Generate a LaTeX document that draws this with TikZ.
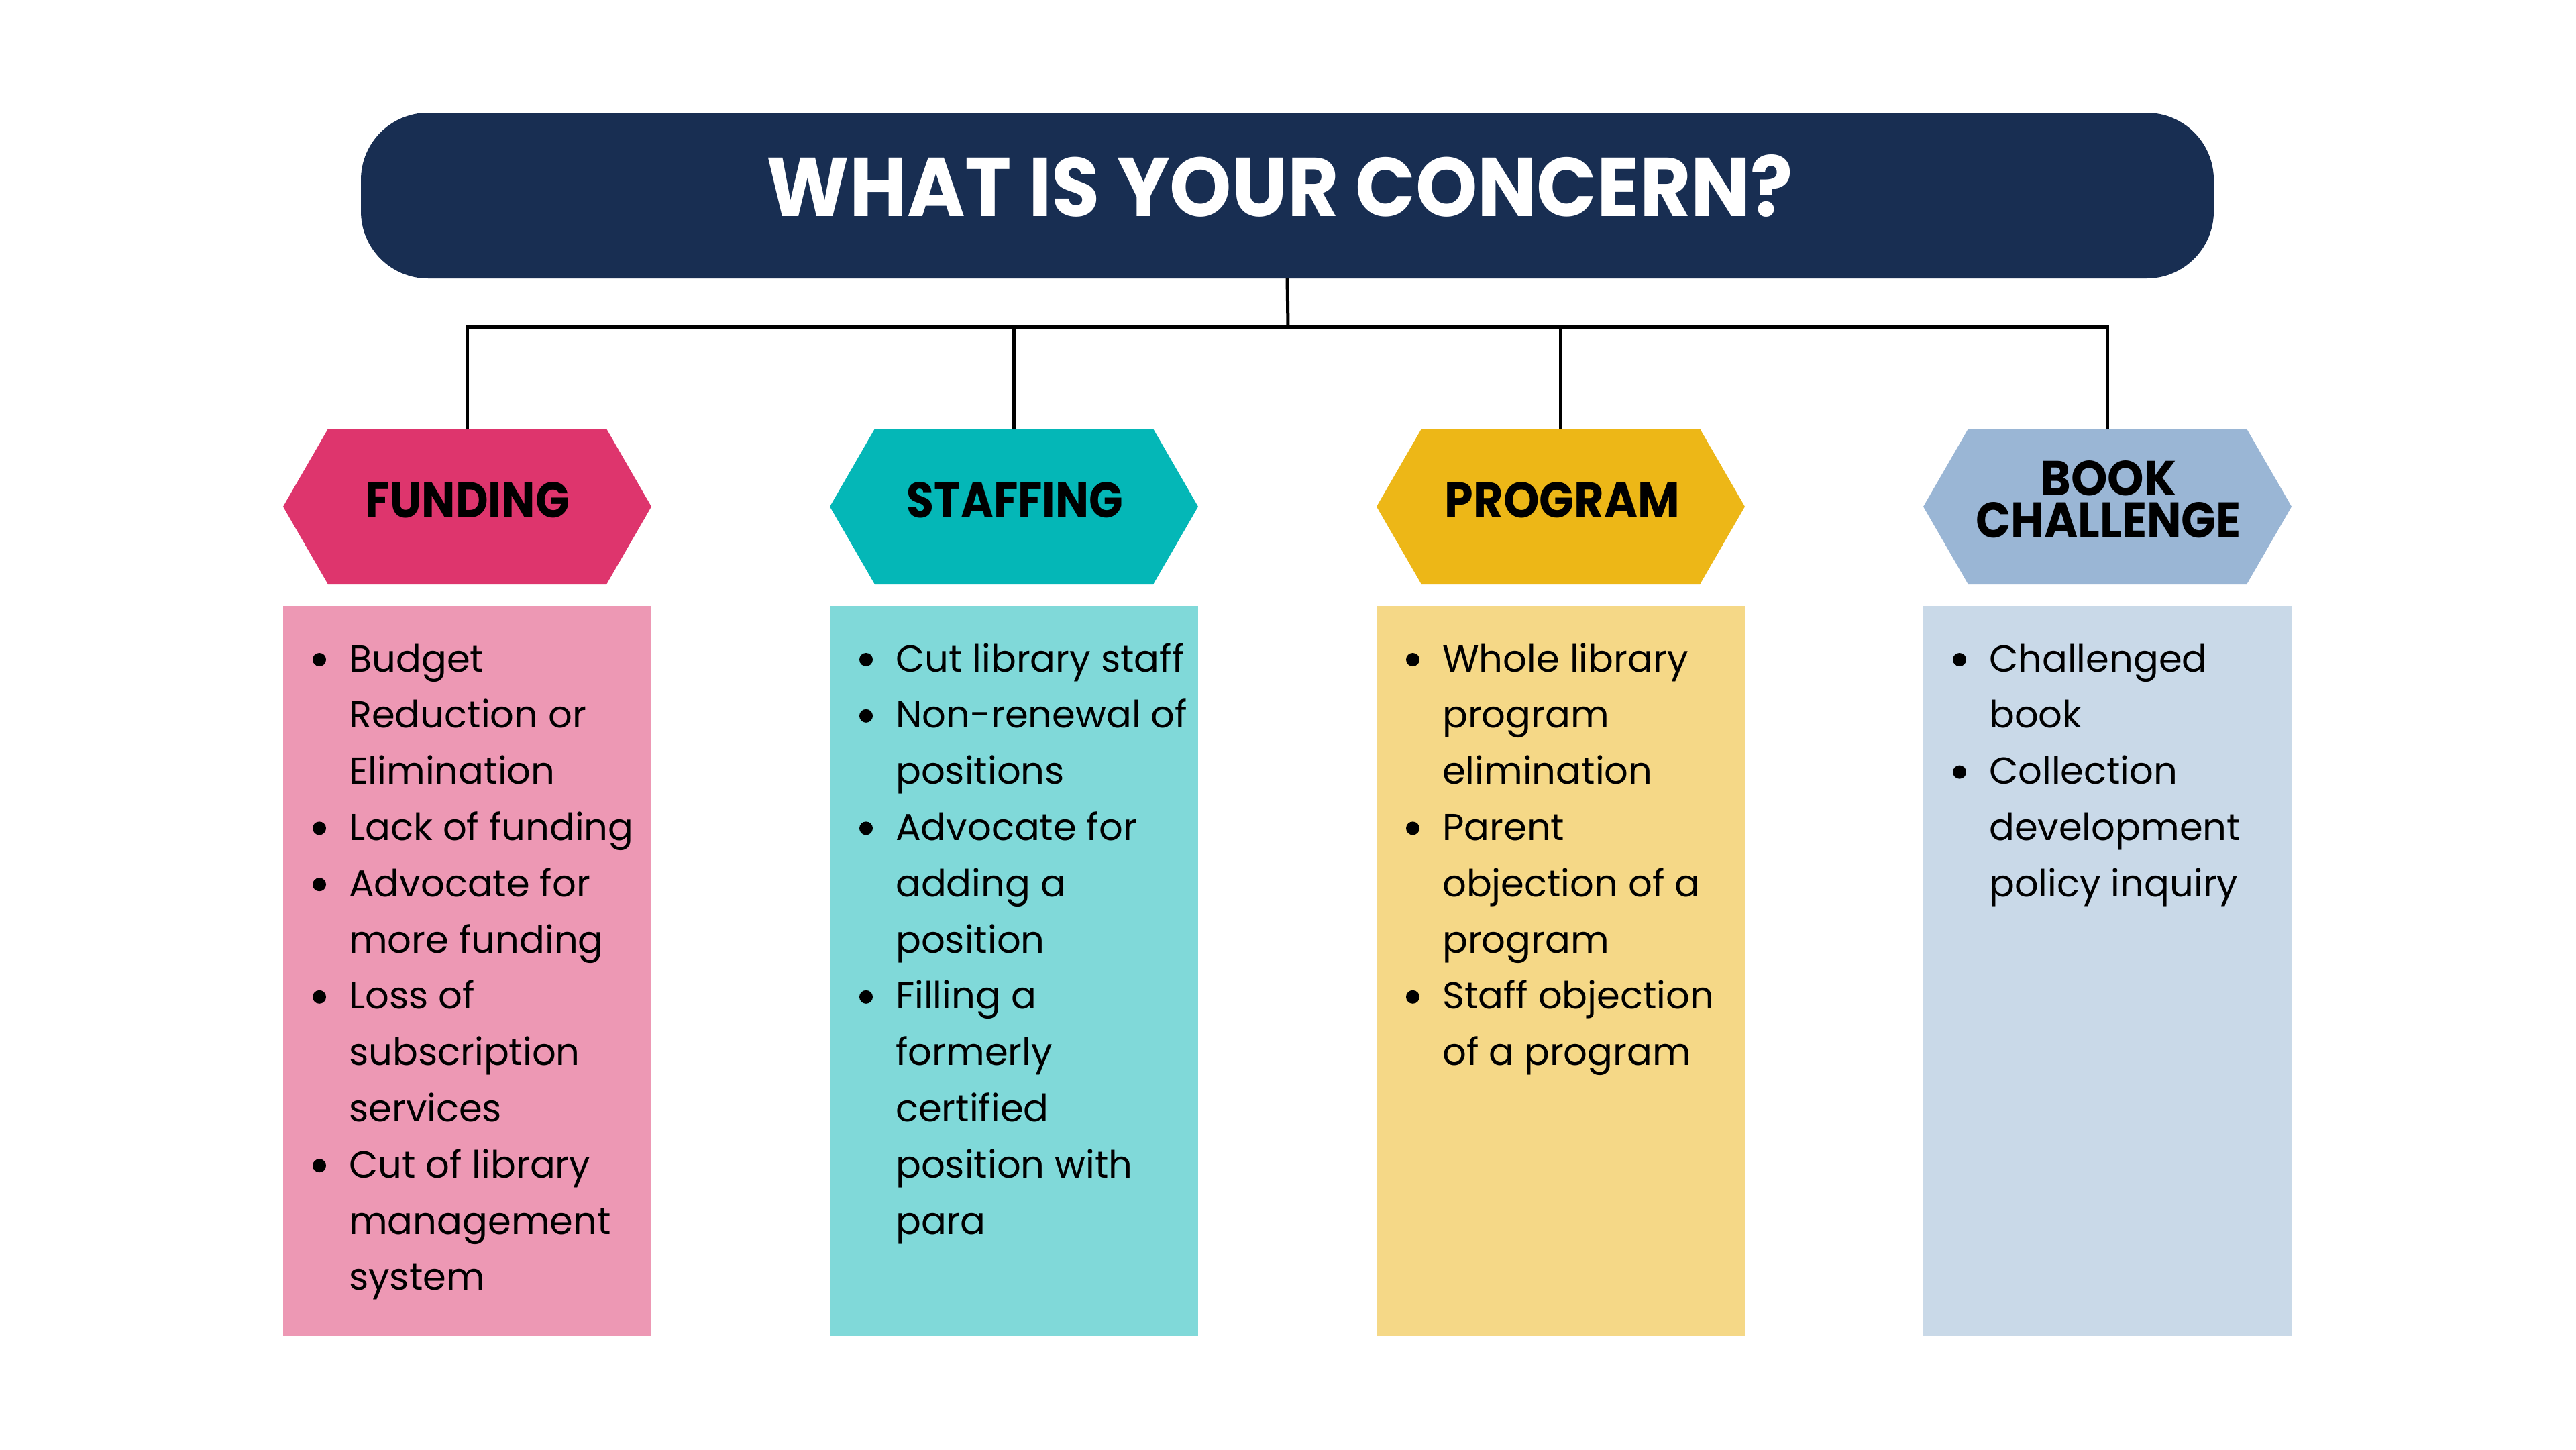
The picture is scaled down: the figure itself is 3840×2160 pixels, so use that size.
\documentclass[tikz,border=0pt]{standalone}
\usepackage{fontspec}
\setmainfont{Poppins}
\usepackage{graphicx}
\definecolor{navy}{HTML}{182E52}
\definecolor{fundhex}{HTML}{DE356D}
\definecolor{staffhex}{HTML}{04B7B7}
\definecolor{proghex}{HTML}{EDB717}
\definecolor{bookhex}{HTML}{9AB6D5}
\definecolor{fundbox}{HTML}{ED98B4}
\definecolor{staffbox}{HTML}{80D9D9}
\definecolor{progbox}{HTML}{F5D887}
\definecolor{bookbox}{HTML}{C9D9E8}
\newcommand{\bodytext}[1]{\parbox[t]{470pt}{\fontsize{56}{83.8}\selectfont\raggedright\parskip=0pt #1}}
\newcommand{\itm}{\par\noindent}
\newcommand{\hexlab}[2]{\resizebox{#1pt}{53pt}{\bfseries #2}}
\tikzset{
  conn/.style={draw=black, line width=5pt},
  boxnode/.style={rectangle, inner sep=0pt, minimum width=549pt, minimum height=1088pt},
  hexnode/.style={rectangle, inner sep=0pt, minimum width=549pt, minimum height=232pt,
    path picture={\fill[#1] ([xshift=67pt]path picture bounding box.north west)
      -- ([xshift=-67pt]path picture bounding box.north east)
      -- (path picture bounding box.east)
      -- ([xshift=-67pt]path picture bounding box.south east)
      -- ([xshift=67pt]path picture bounding box.south west)
      -- (path picture bounding box.west) -- cycle;}},
  hexlabel/.style={anchor=base, inner sep=0pt, text=black},
  listtext/.style={anchor=base west, inner sep=0pt, text=black},
  bulletdot/.style={fill=black},
}
\begin{document}
\begin{tikzpicture}[x=1pt,y=-1pt]
\useasboundingbox (0,0) rectangle (3840,2160);
\fill[white] (0,0) rectangle (3840,2160);
% title
\node[fill=navy, rounded corners=100pt, minimum width=2762pt, minimum height=247pt, inner sep=0pt] (title) at (1919,291.5) {};
\node[anchor=base, inner sep=0pt, text=white] (titletext) at (1907.5,322) {\resizebox{1529pt}{92pt}{\bfseries WHAT IS YOUR CONCERN?}};
% hexagons
\node[hexnode=fundhex]  (hf) at (696.5,755) {};
\node[hexnode=staffhex] (hs) at (1511.5,755) {};
\node[hexnode=proghex]  (hp) at (2326.5,755) {};
\node[hexnode=bookhex]  (hb) at (3141.5,755) {};
\node[hexlabel] (lf) at (697,771.5) {\hexlab{304}{FUNDING}};
\node[hexlabel] (ls) at (1513,771.5) {\hexlab{322}{STAFFING}};
\node[hexlabel] (lp) at (2329,771.5) {\hexlab{350}{PROGRAM}};
\node[inner sep=0pt, align=center, font={\fontsize{40}{62.5}\selectfont}] (lb) at (3143,744)
  {\resizebox{203pt}{52pt}{\bfseries BOOK}\\\resizebox{396pt}{53pt}{\bfseries CHALLENGE}};
% boxes
\node[boxnode, fill=fundbox]  (bf) at (696.5,1447) {};
\node[boxnode, fill=staffbox] (bs) at (1511.5,1447) {};
\node[boxnode, fill=progbox]  (bp) at (2326.5,1447) {};
\node[boxnode, fill=bookbox]  (bb) at (3141.5,1447) {};
\node[listtext] (tf) at (520,1001) {\bodytext{\itm Budget\\Reduction or\\Elimination
  \itm Lack of funding
  \itm Advocate for\\more funding
  \itm Loss of\\subscription\\services
  \itm Cut of library\\management\\system}};
\node[listtext] (ts) at (1335,1001) {\bodytext{\itm Cut library staff
  \itm Non-renewal of\\positions
  \itm Advocate for\\adding a\\position
  \itm Filling a\\formerly\\certified\\position with\\para}};
\node[listtext] (tp) at (2150,1001) {\bodytext{\itm Whole library\\program\\elimination
  \itm Parent\\objection of a\\program
  \itm Staff objection\\of a program}};
\node[listtext] (tb) at (2965,1001) {\bodytext{\itm Challenged\\book
  \itm Collection\\development\\policy inquiry}};
% bullets
\foreach \k in {0,3,4,6,9} \fill[bulletdot] (476,983+\k*83.8) circle (10pt);
\foreach \k in {0,1,3,6}   \fill[bulletdot] (1291,983+\k*83.8) circle (10pt);
\foreach \k in {0,3,6}     \fill[bulletdot] (2106,983+\k*83.8) circle (10pt);
\foreach \k in {0,2}       \fill[bulletdot] (2921,983+\k*83.8) circle (10pt);
% connectors
\coordinate (bus) at (1920,487);
\draw[conn] (title.south) -- (bus);
\draw[conn] (hf.north) |- (bus);
\draw[conn] (hs.north) |- (bus);
\draw[conn] (hp.north) |- (bus);
\draw[conn] (hb.north) |- (bus);
\end{tikzpicture}
\end{document}
